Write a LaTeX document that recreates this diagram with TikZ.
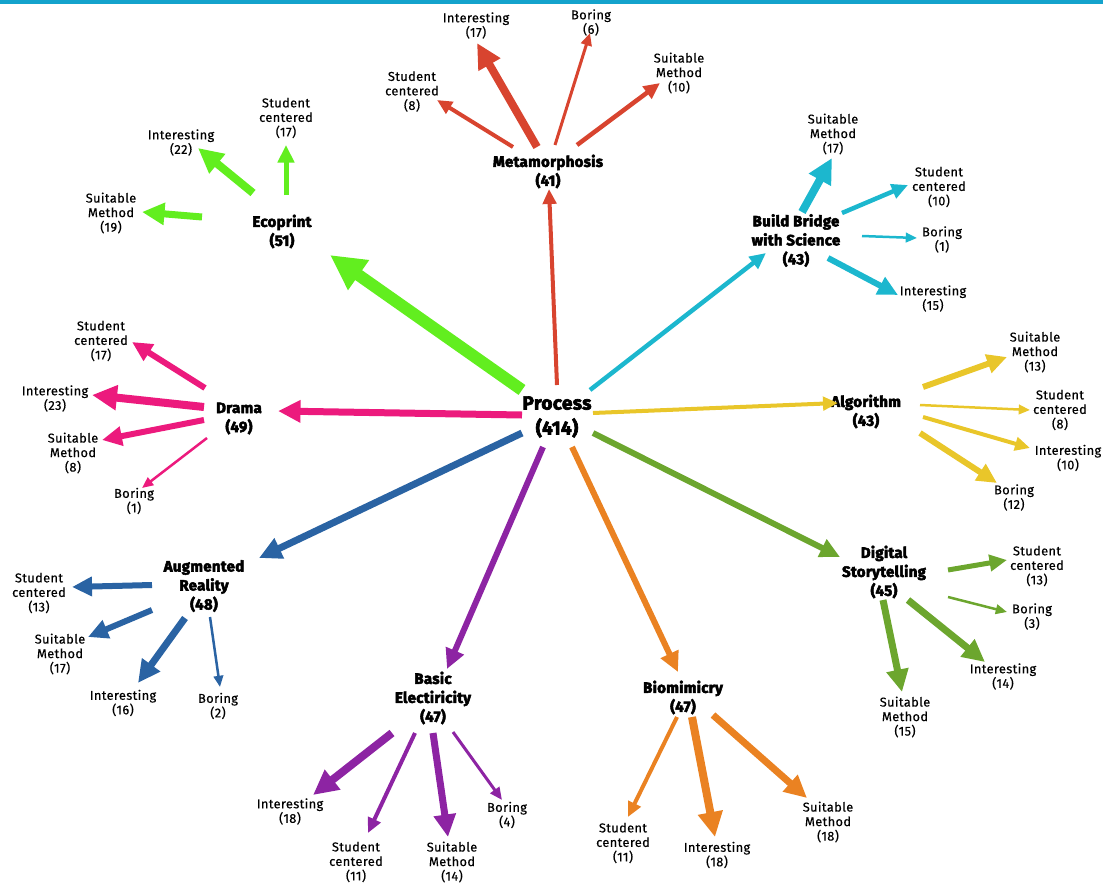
\documentclass[tikz,border=0pt]{standalone}
\usepackage{fontspec}
\setmainfont{Fira Sans}[LetterSpace=3, FakeBold=0.4]
\newfontfamily\heavyfont{Fira Sans}[BoldFeatures={FakeBold=3.5, LetterSpace=2}]
\usetikzlibrary{arrows.meta}
\definecolor{cBar}{HTML}{14A3CC}
\definecolor{cMeta}{HTML}{D8442F}
\definecolor{cEco}{HTML}{62EE1F}
\definecolor{cBridge}{HTML}{1CB7CE}
\definecolor{cDrama}{HTML}{EC1A7D}
\definecolor{cAlgo}{HTML}{E9C62A}
\definecolor{cAR}{HTML}{2A63A3}
\definecolor{cElec}{HTML}{8D24A3}
\definecolor{cBio}{HTML}{EA8222}
\definecolor{cStory}{HTML}{6CA62E}
\begin{document}
\begin{tikzpicture}[x=1pt,y=-1pt,
  lbl/.style={font=\fontsize{12.8}{14.5}\selectfont, align=center, inner sep=0pt},
  hd/.style={font=\heavyfont\bfseries\fontsize{15}{19}\selectfont, align=center, inner sep=0pt},
  conn/.style 2 args={draw=#1, line width=#2, -{Triangle[length=5pt 2.5, width=3pt 2.6]}}]
\useasboundingbox (0,0) rectangle (1103,886);
\fill[cBar] (0,0) rectangle (1103,3.5);

% ---------- centre ----------
\node[hd, font=\heavyfont\bfseries\fontsize{19}{25}\selectfont] (proc) at (557,417) {Process\\(414)};

% ---------- first ring ----------
\node[hd] (meta)   at (548,171.5) {Metamorphosis\\(41)};
\node[hd] (eco)    at (282,231.5) {Ecoprint\\(51)};
\node[hd] (bridge) at (796,240.5) {Build Bridge\\with Science\\(43)};
\node[hd] (drama)  at (239,418.5) {Drama\\(49)};
\node[hd] (algo)   at (866,411.5) {Algorithm\\(43)};
\node[hd] (ar)     at (204,586)   {Augmented\\Reality\\(48)};
\node[hd] (elec)   at (433,698)   {Basic\\Electiricity\\(47)};
\node[hd] (bio)    at (683,697.5) {Biomimicry\\(47)};
\node[hd] (story)  at (884,572)   {Digital\\Storytelling\\(45)};

% ---------- second ring ----------
\node[lbl] (mSC)  at (412,91.5)  {Student\\centered\\(8)};
\node[lbl] (mInt) at (476,25.5)  {Interesting\\(17)};
\node[lbl] (mBor) at (591,22.5)  {Boring\\(6)};
\node[lbl] (mSM)  at (679,73)    {Suitable\\Method\\(10)};

\node[lbl] (eInt) at (181,142.5) {Interesting\\(22)};
\node[lbl] (eSC)  at (286,118)   {Student\\centered\\(17)};
\node[lbl] (eSM)  at (111,213)   {Suitable\\Method\\(19)};

\node[lbl] (bSM)  at (833,134)   {Suitable\\Method\\(17)};
\node[lbl] (bSC)  at (939,187)   {Student\\centered\\(10)};
\node[lbl] (bBor) at (942,239.5) {Boring\\(1)};
\node[lbl] (bInt) at (933,298.5) {Interesting\\(15)};

\node[lbl] (dSC)  at (101,341)   {Student\\centered\\(17)};
\node[lbl] (dInt) at (55,398.5)  {Interesting\\(23)};
\node[lbl] (dSM)  at (73,453)    {Suitable\\Method\\(8)};
\node[lbl] (dBor) at (134,501)   {Boring\\(1)};

\node[lbl] (aSM)  at (1035,352)  {Suitable\\Method\\(13)};
\node[lbl] (aSC)  at (1060,410)  {Student\\centered\\(8)};
\node[lbl] (aInt) at (1068,458)  {Interesting\\(10)};
\node[lbl] (aBor) at (1014,497.5){Boring\\(12)};

\node[lbl] (rSC)  at (39,593)    {Student\\centered\\(13)};
\node[lbl] (rSM)  at (60,654)    {Suitable\\Method\\(17)};
\node[lbl] (rInt) at (123,703)   {Interesting\\(16)};
\node[lbl] (rBor) at (218,706)   {Boring\\(2)};

\node[lbl] (xInt) at (290,811.5) {Interesting\\(18)};
\node[lbl] (xSC)  at (356,862)   {Student\\centered\\(11)};
\node[lbl] (xSM)  at (452,862)   {Suitable\\Method\\(14)};
\node[lbl] (xBor) at (507,815)   {Boring\\(4)};

\node[lbl] (oSC)  at (623,843)   {Student\\centered\\(11)};
\node[lbl] (oInt) at (717,855)   {Interesting\\(18)};
\node[lbl] (oSM)  at (828,822)   {Suitable\\Method\\(18)};

\node[lbl] (sSC)  at (1037,566)  {Student\\centered\\(13)};
\node[lbl] (sBor) at (1032,616.5){Boring\\(3)};
\node[lbl] (sInt) at (1003,676.5){Interesting\\(14)};
\node[lbl] (sSM)  at (905,717)   {Suitable\\Method\\(15)};

% ---------- arrow ends ----------
% from the centre
\coordinate (p1) at (557,385); \coordinate (t1) at (549,189);
\coordinate (p2) at (522,390); \coordinate (t2) at (330,255);
\coordinate (p3) at (590,390); \coordinate (t3) at (766,253);
\coordinate (p4) at (522,415); \coordinate (t4) at (278,411);
\coordinate (p5) at (593,413); \coordinate (t5) at (838,403);
\coordinate (p6) at (522,433); \coordinate (t6) at (259,558);
\coordinate (p7) at (543,447); \coordinate (t7) at (447,669);
\coordinate (p8) at (572,447); \coordinate (t8) at (678,672);
\coordinate (p9) at (593,433); \coordinate (t9) at (840,557);

\draw[conn={cMeta}{4pt}]    (p1) -- (t1);
\draw[conn={cEco}{12pt}]    (p2) -- (t2);
\draw[conn={cBridge}{4.5pt}](p3) -- (t3);
\draw[conn={cDrama}{7pt}]   (p4) -- (t4);
\draw[conn={cAlgo}{4pt}]    (p5) -- (t5);
\draw[conn={cAR}{7pt}]      (p6) -- (t6);
\draw[conn={cElec}{6pt}]    (p7) -- (t7);
\draw[conn={cBio}{6pt}]     (p8) -- (t8);
\draw[conn={cStory}{6pt}]   (p9) -- (t9);

% Metamorphosis
\coordinate (m1) at (513,147); \coordinate (mt1) at (437,100);
\coordinate (m2) at (537,147); \coordinate (mt2) at (477,43);
\coordinate (m3) at (555,145); \coordinate (mt3) at (590,33);
\coordinate (m4) at (577,145); \coordinate (mt4) at (660,83);
\draw[conn={cMeta}{4pt}]   (m1) -- (mt1);
\draw[conn={cMeta}{8pt}]   (m2) -- (mt2);
\draw[conn={cMeta}{3pt}]   (m3) -- (mt3);
\draw[conn={cMeta}{4.5pt}] (m4) -- (mt4);

% Ecoprint
\coordinate (e1) at (253,193); \coordinate (et1) at (198,148);
\coordinate (e2) at (286,195); \coordinate (et2) at (286,145);
\coordinate (e3) at (202,217); \coordinate (et3) at (142,212);
\draw[conn={cEco}{8pt}] (e1) -- (et1);
\draw[conn={cEco}{5pt}] (e2) -- (et2);
\draw[conn={cEco}{7pt}] (e3) -- (et3);

% Build Bridge with Science
\coordinate (b1) at (802,212); \coordinate (bt1) at (832,158);
\coordinate (b2) at (842,213); \coordinate (bt2) at (908,185);
\coordinate (b3) at (862,236); \coordinate (bt3) at (917,238);
\coordinate (b4) at (828,258); \coordinate (bt4) at (898,295);
\draw[conn={cBridge}{8pt}]   (b1) -- (bt1);
\draw[conn={cBridge}{4.5pt}] (b2) -- (bt2);
\draw[conn={cBridge}{2.5pt}] (b3) -- (bt3);
\draw[conn={cBridge}{6pt}]   (b4) -- (bt4);

% Drama
\coordinate (d1) at (205,388); \coordinate (dt1) at (132,342);
\coordinate (d2) at (204,407); \coordinate (dt2) at (92,395);
\coordinate (d3) at (204,420); \coordinate (dt3) at (102,440);
\coordinate (d4) at (207,438); \coordinate (dt4) at (142,488);
\draw[conn={cDrama}{6pt}]   (d1) -- (dt1);
\draw[conn={cDrama}{8pt}]   (d2) -- (dt2);
\draw[conn={cDrama}{6pt}]   (d3) -- (dt3);
\draw[conn={cDrama}{2.5pt}] (d4) -- (dt4);

% Algorithm
\coordinate (a1) at (923,387); \coordinate (at1) at (1007,357);
\coordinate (a2) at (920,405); \coordinate (at2) at (1030,410);
\coordinate (a3) at (923,417); \coordinate (at3) at (1030,448);
\coordinate (a4) at (920,433); \coordinate (at4) at (997,483);
\draw[conn={cAlgo}{6pt}]   (a1) -- (at1);
\draw[conn={cAlgo}{2.5pt}] (a2) -- (at2);
\draw[conn={cAlgo}{4pt}]   (a3) -- (at3);
\draw[conn={cAlgo}{6pt}]   (a4) -- (at4);

% Augmented Reality
\coordinate (r1) at (152,585); \coordinate (rt1) at (72,587);
\coordinate (r2) at (152,610); \coordinate (rt2) at (88,637);
\coordinate (r3) at (185,618); \coordinate (rt3) at (138,683);
\coordinate (r4) at (210,617); \coordinate (rt4) at (220,687);
\draw[conn={cAR}{6pt}]   (r1) -- (rt1);
\draw[conn={cAR}{6pt}]   (r2) -- (rt2);
\draw[conn={cAR}{7pt}]   (r3) -- (rt3);
\draw[conn={cAR}{2.5pt}] (r4) -- (rt4);

% Basic Electiricity
\coordinate (x1) at (392,733); \coordinate (xt1) at (313,795);
\coordinate (x2) at (415,733); \coordinate (xt2) at (368,833);
\coordinate (x3) at (433,733); \coordinate (xt3) at (448,837);
\coordinate (x4) at (453,732); \coordinate (xt4) at (502,800);
\draw[conn={cElec}{8pt}] (x1) -- (xt1);
\draw[conn={cElec}{4pt}] (x2) -- (xt2);
\draw[conn={cElec}{7pt}] (x3) -- (xt3);
\draw[conn={cElec}{3pt}] (x4) -- (xt4);

% Biomimicry
\coordinate (o1) at (677,717); \coordinate (ot1) at (628,817);
\coordinate (o2) at (692,717); \coordinate (ot2) at (715,837);
\coordinate (o3) at (713,715); \coordinate (ot3) at (807,798);
\draw[conn={cBio}{4pt}] (o1) -- (ot1);
\draw[conn={cBio}{8pt}] (o2) -- (ot2);
\draw[conn={cBio}{7pt}] (o3) -- (ot3);

% Digital Storytelling
\coordinate (s1) at (948,570); \coordinate (st1) at (1007,560);
\coordinate (s2) at (948,597); \coordinate (st2) at (1007,612);
\coordinate (s3) at (908,600); \coordinate (st3) at (985,662);
\coordinate (s4) at (883,600); \coordinate (st4) at (902,692);
\draw[conn={cStory}{5pt}]   (s1) -- (st1);
\draw[conn={cStory}{2.5pt}] (s2) -- (st2);
\draw[conn={cStory}{7pt}]   (s3) -- (st3);
\draw[conn={cStory}{7pt}]   (s4) -- (st4);
\end{tikzpicture}
\end{document}
